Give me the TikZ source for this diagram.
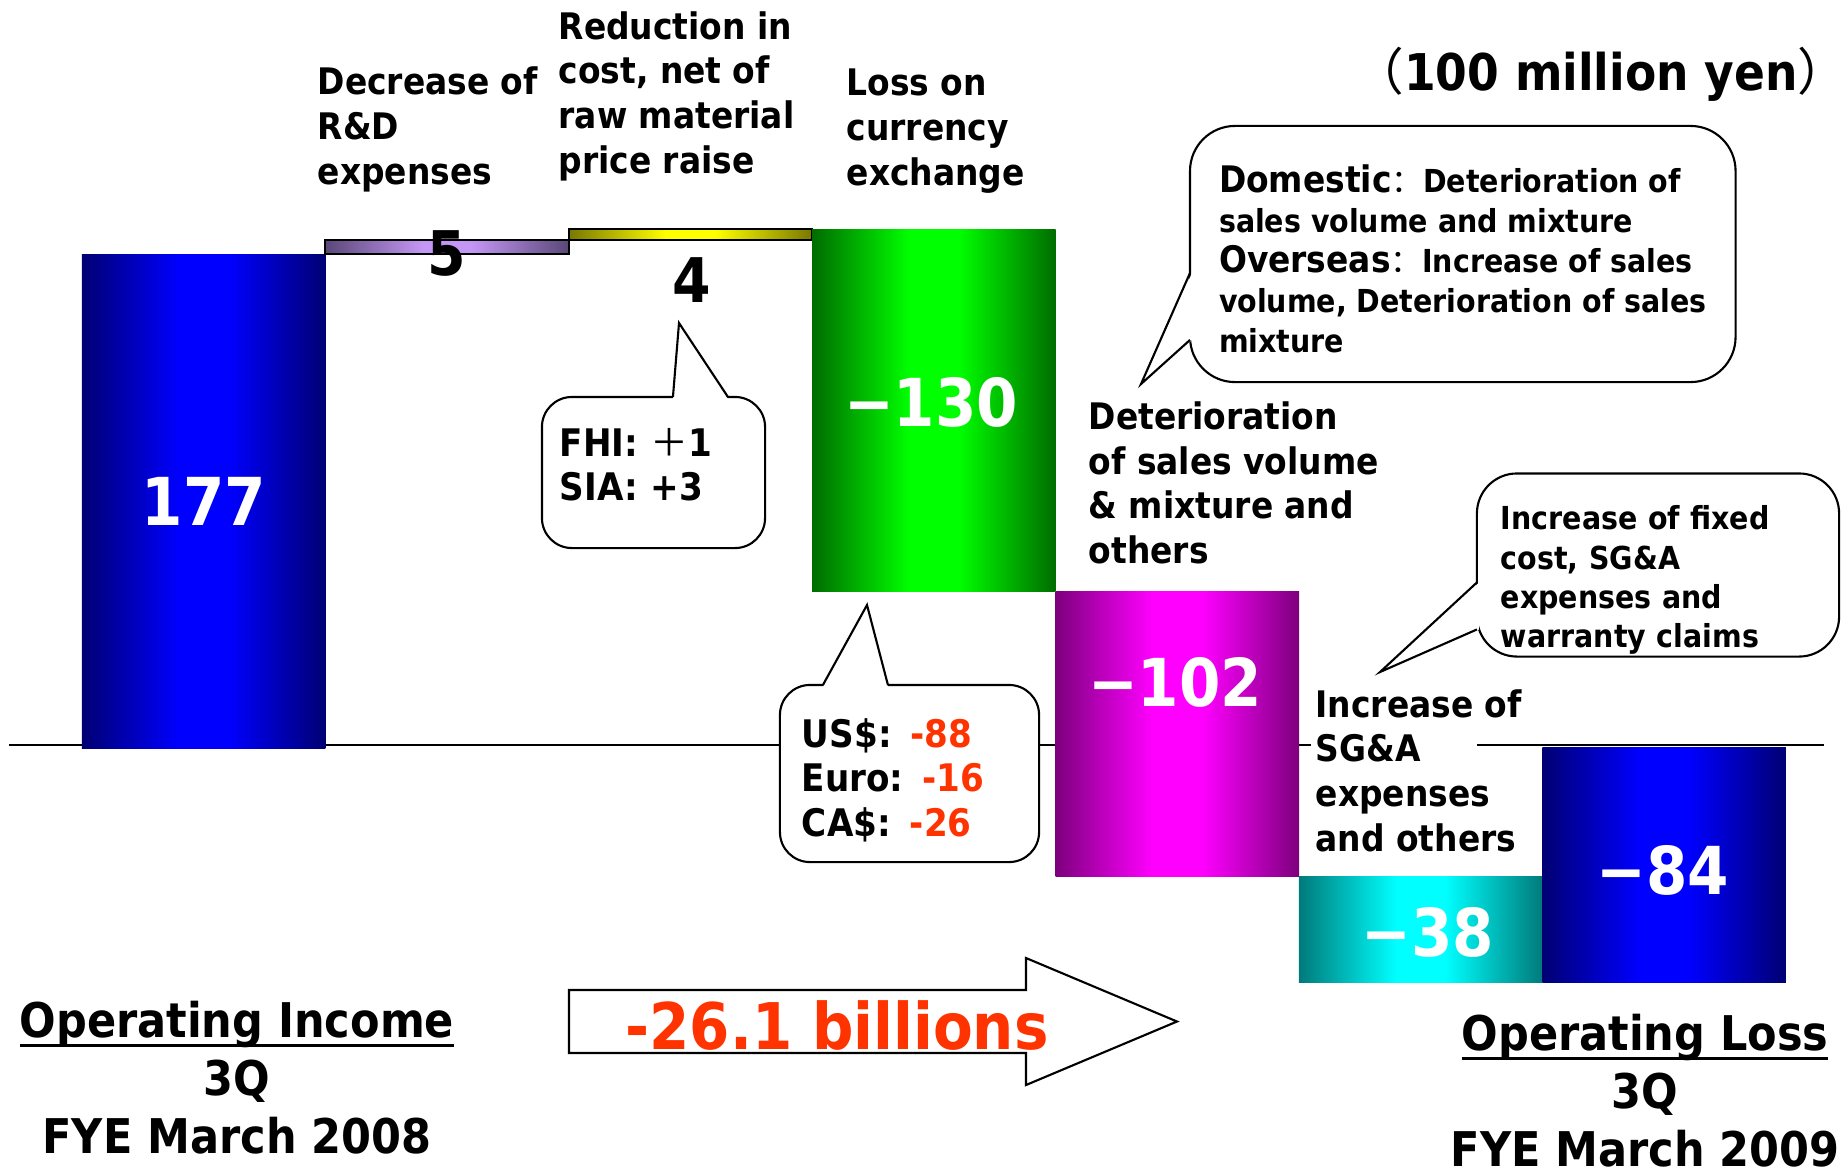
\documentclass[tikz,border=0pt]{standalone}
\usepackage{fontspec}
\setmainfont{DejaVu Sans Condensed Bold}
\newfontfamily\cjk{Noto Sans CJK SC}
\usetikzlibrary{calc}
\definecolor{barnavy}{RGB}{0,0,115}
\definecolor{barblue}{RGB}{0,0,255}
\definecolor{bardkgreen}{RGB}{0,108,0}
\definecolor{bargreen}{RGB}{0,255,0}
\definecolor{bardkmag}{RGB}{125,0,125}
\definecolor{barmag}{RGB}{255,0,255}
\definecolor{barteal}{RGB}{0,122,122}
\definecolor{barcyan}{RGB}{0,255,255}
\definecolor{bardkpurple}{RGB}{90,72,120}
\definecolor{barlilac}{RGB}{196,150,245}
\definecolor{barolive}{RGB}{120,120,0}
\definecolor{baryellow}{RGB}{255,255,0}
\definecolor{lossred}{RGB}{255,51,0}
\colorlet{edgecol}{barnavy}
\colorlet{midcol}{barblue}
\pgfdeclarehorizontalshading[edgecol,midcol]{barshading}{100bp}{color(0bp)=(edgecol); color(25bp)=(edgecol);
  color(45bp)=(midcol); color(55bp)=(midcol); color(75bp)=(edgecol); color(100bp)=(edgecol)}
\newcommand{\labfont}{\fontsize{10.4}{12.7}\selectfont}
\newcommand{\boxfont}{\fontsize{10.8}{12.6}\selectfont}
\newcommand{\notefont}{\fontsize{9}{11.2}\selectfont}
\newcommand{\barfont}{\fontsize{18.8}{23}\selectfont}
\newcommand{\numfont}{\fontsize{17.5}{20}\selectfont}
\newcommand{\periodfont}{\fontsize{13.6}{16.5}\selectfont}
\newcommand{\unitfont}{\fontsize{14.4}{17}\selectfont}
\newcommand{\bigfont}{\fontsize{18.3}{22}\selectfont}
\newcommand{\thickul}[1]{\sbox0{#1}\rlap{\rule[-0.2em]{\wd0}{0.075em}}\usebox0}

\begin{document}
\begin{tikzpicture}[x=0.01cm, y=-0.01cm,
    bar/.style={rectangle, inner sep=0pt, outer sep=0pt, minimum width=2.434cm, text=white, font=\barfont},
    thinbar/.style={bar, draw=black, line width=0.6pt},
    barshade/.style 2 args={/utils/exec={\colorlet{edgecol}{#1}\colorlet{midcol}{#2}}, shade, shading=barshading},
    lab/.style={anchor=west, align=left, inner sep=0pt, font=\labfont},
    endlab/.style={align=center, inner sep=0pt, font=\periodfont},
    bubble/.style={draw, fill=white, line width=0.6pt, align=left, inner sep=0pt, outer sep=0pt},
    ptr/.style={line width=0.6pt},
    num/.style={inner sep=0pt, font=\numfont},
    bignum/.style={inner sep=0pt, text=white, font=\barfont}
]
    \useasboundingbox (0,0) rectangle (1843,1169);

    % zero line
    \draw[line width=0.6pt] (9,745) -- (1311,745);
    \draw[line width=0.6pt] (1477,745) -- (1824,745);

    % bars
    \node[bar, barshade={barnavy}{barblue}, minimum height=4.938cm] (inc) at (203.7,501.1) {177};
    \node[thinbar, barshade={bardkpurple}{barlilac}, minimum height=0.14cm] (rd) at (447.1,247.2) {};
    \node[thinbar, barshade={barolive}{baryellow}, minimum height=0.111cm] (cost) at (690.5,234.65) {};
    \node[bar, barshade={bardkgreen}{bargreen}, minimum height=3.627cm] (fx) at (933.9,410.45) {};
    \node[bar, barshade={bardkmag}{barmag}, minimum height=2.845cm] (sale) at (1177.3,734.05) {};
    \node[bar, barshade={barteal}{barcyan}, minimum height=1.061cm] (sga) at (1420.7,929.35) {};
    \node[bar, barshade={barnavy}{barblue}, minimum height=2.344cm] (loss) at (1664.1,865.2) {};

    % bar values
    \node[num] (rdnum) at (447,253) {5};
    \node[num] (costnum) at (692,280) {4};
    \node[bignum] (fxnum) at (931,402) {−130};
    \node[bignum] (salenum) at (1175,682) {−102};
    \node[bignum] (sganum) at (1428,932) {−38};
    \node[bignum] (lossnum) at (1663,870) {−84};

    % labels
    \node[lab] (rdlab) at (317,129.5) {Decrease of\\R\&D\\expenses};
    \node[lab] (costlab) at (558,96) {Reduction in\\cost, net of\\raw material\\price raise};
    \node[lab] (fxlab) at (846,131) {Loss on\\currency\\exchange};
    \node[lab] (salelab) at (1088,483) {Deterioration\\of sales volume\\\& mixture and\\others};
    \node[lab] (sgalab) at (1315,770.5) {Increase of\\SG\&A\\expenses\\and others};
    \node[inner sep=0pt, font=\unitfont] (unit) at (1601,74) {{\cjk （}100 million yen{\cjk ）}};

    % callouts
    \node[bubble, rounded corners=0.3cm, minimum width=2.23cm, minimum height=1.51cm, text width=1.87cm, font=\boxfont] (costnote) at (653.5,472.5)
        {FHI: {\cjk ＋}1\\SIA: +3\rule[-4.5pt]{0pt}{0pt}};
    \coordinate (costtip) at (679,323);
    \fill[white] ($(costnote.north west)+(131,2)$) -- (costtip) -- ($(costnote.north west)+(186,2)$) -- cycle;
    \draw[ptr] ($(costnote.north west)+(131,0)$) -- (costtip) -- ($(costnote.north west)+(186,0)$);

    \node[bubble, rounded corners=0.3cm, minimum width=2.59cm, minimum height=1.77cm, text width=2.15cm, font=\boxfont] (fxnote) at (909.5,773.5)
        {\rule{0pt}{12pt}US\$: \textcolor{lossred}{-88}\\Euro: \textcolor{lossred}{-16}\\CA\$: \textcolor{lossred}{-26}};
    \coordinate (fxtip) at (867,605);
    \fill[white] ($(fxnote.north west)+(43,2)$) -- (fxtip) -- ($(fxnote.north west)+(108,2)$) -- cycle;
    \draw[ptr] ($(fxnote.north west)+(43,0)$) -- (fxtip) -- ($(fxnote.north west)+(108,0)$);

    \node[bubble, anchor=west, rounded corners=0.45cm, inner xsep=0.29cm, minimum height=2.56cm, font=\fontsize{9}{11.4}\selectfont] (salenote) at (1190,254)
        {\rule{0pt}{10.7pt}{\labfont Domestic}{\cjk ：}Deterioration of\\sales volume and mixture\\{\labfont Overseas}{\cjk ：}Increase of sales\\volume, Deterioration of sales\\mixture};
    \coordinate (saletip) at (1141,384);
    \fill[white] ($(salenote.north west)+(2,147)$) -- (saletip) -- ($(salenote.north west)+(2,214)$) -- cycle;
    \draw[ptr] ($(salenote.north west)+(0,147)$) -- (saletip) -- ($(salenote.north west)+(0,214)$);

    \node[bubble, rounded corners=0.4cm, minimum width=3.62cm, minimum height=1.83cm, text width=3.14cm, font=\notefont] (sganote) at (1658,565)
        {\rule{0pt}{15.5pt}Increase of fixed\\cost, SG\&A\\expenses and\\warranty claims};
    \coordinate (sgatip) at (1380,672);
    \fill[white] ($(sganote.north west)+(2,109)$) -- (sgatip) -- ($(sganote.north west)+(2,156)$) -- cycle;
    \draw[ptr] ($(sganote.north west)+(0,109)$) -- (sgatip) -- ($(sganote.north west)+(0,156)$);

    % total change
    \draw[line width=0.6pt, fill=white] (569,990) -- (1026,990) -- (1026,958) -- (1177,1021.5)
        -- (1026,1085) -- (1026,1053) -- (569,1053) -- cycle;
    \node[inner sep=0pt, font=\bigfont, text=lossred] (drop) at (837,1025) {-26.1 billions};

    % periods
    \node[endlab] (inclab) at (237,1078) {\thickul{Operating Income}\\3Q\\FYE March 2008};
    \node[endlab] (losslab) at (1645,1091) {\thickul{Operating Loss}\\3Q\\FYE March 2009};
\end{tikzpicture}
\end{document}
